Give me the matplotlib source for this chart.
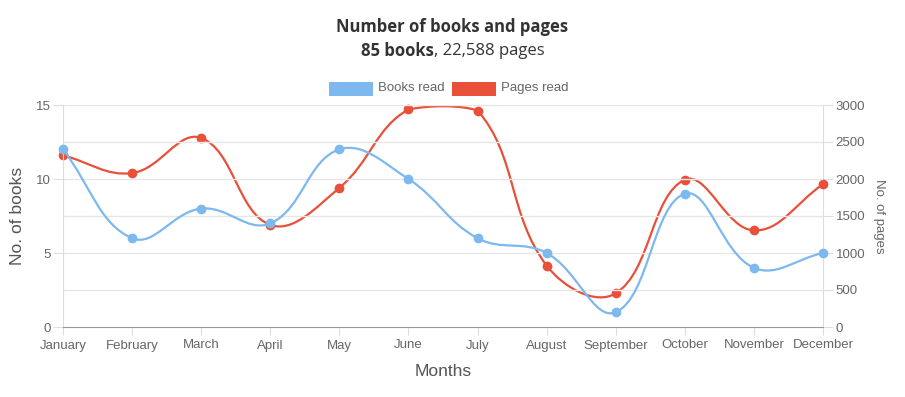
import numpy as np
import matplotlib
matplotlib.use("Agg")
import matplotlib.pyplot as plt
from matplotlib.path import Path
from matplotlib.patches import PathPatch, Rectangle

months = ["January", "February", "March", "April", "May", "June", "July",
          "August", "September", "October", "November", "December"]
books = [12, 6, 8, 7, 12, 10, 6, 5, 1, 9, 4, 5]
pages = [2320, 2080, 2555, 1380, 1880, 2940, 2925, 830, 455, 1990, 1305, 1928]

BLUE = "#7db8ee"
RED = "#e8503a"
GRID = "#e6e6e6"
TXT = "#666666"

W, H = 905, 397
fig = plt.figure(figsize=(W / 100, H / 100), dpi=100)
ax = fig.add_axes([63 / W, 1 - 327 / H, 760 / W, 222 / H])
ax2 = ax.twinx()

ax.set_xlim(0, len(months) - 1)
ax.set_ylim(0, 15)
ax2.set_ylim(0, 3000)


def smooth_path(axis, xs, ys, tension=0.4):
    # chart.js style bezier, worked out in pixel space, control points kept inside the plot
    pts = axis.transData.transform(np.column_stack([xs, ys]))
    bb = axis.bbox
    n = len(pts)
    cps = []
    for i in range(n):
        cur = pts[i]
        prev = pts[i - 1] if i > 0 else cur
        nxt = pts[i + 1] if i < n - 1 else cur
        d01 = np.hypot(*(cur - prev))
        d12 = np.hypot(*(nxt - cur))
        tot = d01 + d12
        s01 = d01 / tot if tot else 0
        s12 = d12 / tot if tot else 0
        a = cur - tension * s01 * (nxt - prev)
        b = cur + tension * s12 * (nxt - prev)
        for c in (a, b):
            c[0] = min(max(c[0], bb.x0), bb.x1)
            c[1] = min(max(c[1], bb.y0), bb.y1)
        cps.append((a, b))
    verts = [pts[0]]
    codes = [Path.MOVETO]
    for i in range(1, n):
        verts += [cps[i - 1][1], cps[i][0], pts[i]]
        codes += [Path.CURVE4] * 3
    verts = axis.transData.inverted().transform(np.array(verts))
    return Path(verts, codes)


x = np.arange(len(months))

# grid + frame
for v in [2.5, 5, 7.5, 10, 12.5, 15]:
    ax.axhline(v, color=GRID, lw=1, zorder=0)
for s in ["top"]:
    ax.spines[s].set_visible(False)
    ax2.spines[s].set_visible(False)
ax.spines["left"].set_color("#dddddd")
ax.spines["right"].set_visible(False)
ax2.spines["left"].set_visible(False)
ax2.spines["right"].set_color("#dddddd")
ax.spines["bottom"].set_color("#999999")
ax2.spines["bottom"].set_visible(False)

ax2.add_patch(PathPatch(smooth_path(ax2, x, pages), fill=False, ec=RED, lw=1.6, zorder=2,
                        clip_on=False))
ax2.plot(x, pages, "o", color=RED, ms=6, zorder=3, clip_on=False)
ax2.set_zorder(1)
ax.set_zorder(2)
ax.patch.set_visible(False)
ax.add_patch(PathPatch(smooth_path(ax, x, books), fill=False, ec=BLUE, lw=1.6, zorder=2,
                       clip_on=False))
ax.plot(x, books, "o", color=BLUE, ms=6, zorder=3, clip_on=False)

tick_font = dict(family="Liberation Sans", size=9.5, color=TXT)
ax.set_xticks(x)
ax.set_xticklabels(months, **tick_font)
ax.set_yticks([0, 5, 10, 15])
ax.set_yticklabels(["0", "5", "10", "15"], **tick_font)
ax2.set_yticks([0, 500, 1000, 1500, 2000, 2500, 3000])
ax2.set_yticklabels(["0", "500", "1000", "1500", "2000", "2500", "3000"], **tick_font)
ax.tick_params(axis="x", length=6, color="#dddddd", pad=3)
ax.tick_params(axis="y", length=7, color="#dddddd", pad=2)
ax2.tick_params(axis="y", length=7, color="#dddddd", pad=2)

ax.set_xlabel("Months", family="Liberation Sans", size=12.5, color="#555555", labelpad=9)
ax.set_ylabel("No. of books", family="Liberation Sans", size=12.5, color="#555555", labelpad=8)
ax2.set_ylabel("No. of pages", family="Liberation Sans", size=9.5, color=TXT,
               rotation=-90, labelpad=14)

# title and subtitle
fig.text(0.5, 1 - 27 / H, "Number of books and pages", ha="center", va="center",
         family="Open Sans", weight="bold", size=12, color="#333333")
r = fig.canvas.get_renderer()
t1 = fig.text(0, 1 - 51 / H, "85 books", ha="left", va="center",
              family="Open Sans", weight="bold", size=12, color="#333333")
t2 = fig.text(0, 1 - 51 / H, ", 22,588 pages", ha="left", va="center",
              family="Open Sans", size=12, color="#333333")
w1 = t1.get_window_extent(r).width
w2 = t2.get_window_extent(r).width
x0 = (W - w1 - w2) / 2
t1.set_x(x0 / W)
t2.set_x((x0 + w1) / W)

# legend
for bx, col, lab in [(329, BLUE, "Books read"), (452, RED, "Pages read")]:
    fig.patches.append(Rectangle((bx / W, 1 - 96 / H), 44 / W, 14 / H,
                                 transform=fig.transFigure, fc=col, ec="none"))
    fig.text((bx + 49) / W, 1 - 88 / H, lab, ha="left", va="center",
             family="Liberation Sans", size=9.5, color=TXT)

fig.savefig("out.png", dpi=100)
